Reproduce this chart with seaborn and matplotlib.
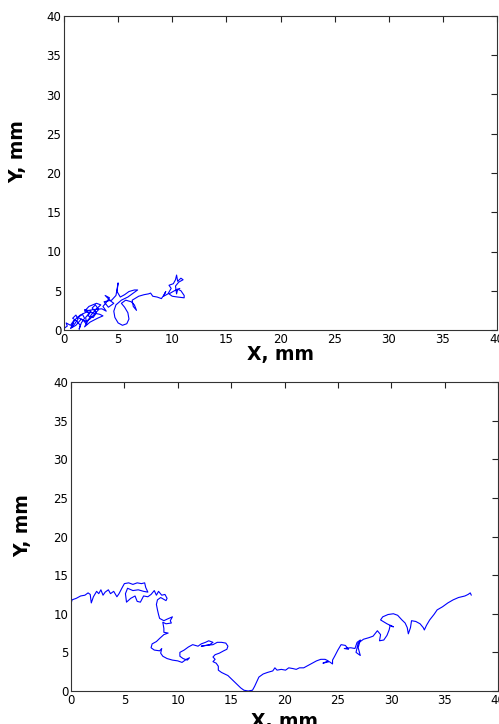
import matplotlib
matplotlib.use("Agg")
import matplotlib.pyplot as plt
import seaborn as sns
import pandas as pd

# Track 1 (top panel), mm
track1_x = [0.0, 0.3, 0.2, 0.6, 0.9, 0.7, 1.0, 1.3, 1.1, 0.8,
            1.2, 1.5, 1.4, 1.6, 1.9, 1.7, 1.3, 1.8, 2.1, 2.0,
            2.3, 1.9, 2.5, 2.2, 2.7, 3.0, 2.6, 2.9, 3.2, 2.8,
            2.4, 2.0, 1.6, 1.1, 0.6, 1.0, 1.5, 2.1, 2.6, 3.3,
            3.6, 3.1, 2.4, 1.9, 2.5, 3.0, 3.4, 3.0, 2.3, 1.9,
            2.7, 3.5, 3.9, 3.6, 3.9, 4.2, 3.8, 4.3, 4.6, 4.1,
            3.7, 4.4, 4.8, 5.0, 4.9, 5.2, 5.6, 6.0, 6.5, 6.8,
            6.4, 5.9, 5.3, 4.8, 4.6, 4.7, 5.0, 5.4, 5.8, 6.0,
            5.9, 5.6, 5.3, 5.7, 6.2, 6.5, 6.7, 6.4, 6.3, 6.9,
            7.4, 7.8, 8.0, 8.2, 8.6, 9.0, 9.2, 9.4, 9.2, 9.6,
            9.9, 9.7, 10.1, 10.3, 10.4, 10.5, 10.8, 11.0, 10.6, 10.3,
            10.4, 10.5, 10.8, 11.1, 11.1, 10.5, 10.0, 9.7, 10.2, 10.7]
track1_y = [0.2, 0.5, 0.9, 0.6, 1.2, 0.3, 0.8, 1.4, 1.9, 1.5,
            1.1, 0.6, 0.1, 0.9, 1.5, 2.0, 1.6, 1.2, 0.7, 1.6,
            2.1, 2.6, 2.4, 1.8, 1.6, 2.2, 2.8, 3.2, 2.6, 2.0,
            1.4, 1.1, 1.4, 0.6, 0.2, 1.3, 1.9, 2.3, 2.2, 2.0,
            1.8, 1.5, 1.0, 0.4, 1.9, 2.7, 3.2, 3.4, 3.0, 2.4,
            2.6, 2.7, 2.4, 3.0, 3.5, 4.1, 4.4, 3.7, 3.4, 2.9,
            3.6, 3.8, 4.4, 6.0, 4.9, 4.2, 4.5, 4.9, 5.1, 5.1,
            4.7, 4.2, 3.8, 3.2, 2.4, 1.6, 0.9, 0.6, 0.8, 1.4,
            2.2, 2.9, 3.4, 3.8, 3.6, 3.2, 2.5, 3.0, 3.8, 4.3,
            4.5, 4.6, 4.7, 4.3, 4.2, 4.0, 4.4, 4.9, 4.3, 4.6,
            5.3, 5.7, 5.9, 6.4, 7.0, 6.2, 6.6, 6.4, 6.1, 5.6,
            4.6, 5.2, 5.0, 4.4, 4.1, 4.2, 4.3, 4.6, 5.0, 5.3]

# Track 2 (bottom panel), mm
track2_x = [0.0, 0.1, 0.5, 0.9, 1.3, 1.6, 1.8, 1.9, 2.1, 2.4,
            2.6, 2.8, 3.0, 3.2, 3.5, 3.7, 4.0, 4.3, 4.5, 4.8,
            5.0, 5.4, 5.8, 6.2, 6.6, 6.9, 7.0, 7.2, 6.8, 6.3,
            5.8, 5.3, 5.1, 5.2, 5.6, 6.0, 6.2, 6.5, 6.8, 7.2,
            7.5, 7.8, 8.0, 8.2, 8.5, 8.8, 9.0, 8.9, 8.4, 8.1,
            8.0, 8.1, 8.2, 8.3, 8.7, 9.0, 9.5, 9.3, 9.4, 8.9,
            8.6, 8.7, 8.7, 9.1, 8.7, 8.3, 8.0, 7.6, 7.5, 7.8,
            8.3, 8.5, 8.4, 8.6, 9.0, 9.5, 10.0, 10.4, 10.8, 11.1,
            10.9, 10.5, 10.2, 10.2, 10.6, 11.0, 11.4, 11.9, 12.2, 12.6,
            12.9, 13.3, 13.0, 12.6, 12.2, 12.7, 13.3, 13.7, 14.1, 14.5,
            14.7, 14.6, 14.3, 13.9, 13.5, 13.3, 13.5, 13.3, 13.6, 13.8,
            13.8, 14.1, 14.4, 14.7, 15.0, 15.3, 15.6, 15.9, 16.2, 16.6,
            17.0, 17.2, 17.4, 17.6, 18.0, 18.4, 18.9, 19.1, 19.3, 19.7,
            20.1, 20.4, 20.8, 21.1, 21.4, 21.8, 22.2, 22.6, 23.0, 23.4,
            23.8, 24.1, 23.6, 24.2, 24.5, 24.5, 24.7, 25.0, 25.3, 25.7,
            26.0, 25.6, 26.2, 26.6, 26.8, 27.1, 26.9, 27.1, 26.7, 26.9,
            27.4, 27.9, 28.3, 28.7, 29.0, 28.9, 29.3, 29.6, 29.8, 29.9,
            30.2, 29.6, 29.0, 29.2, 29.7, 30.2, 30.6, 31.0, 31.3, 31.5,
            31.6, 31.8, 31.9, 32.3, 32.7, 33.0, 33.1, 33.3, 33.6, 34.0,
            34.3, 34.8, 35.3, 35.8, 36.3, 36.9, 37.2, 37.4, 37.5]
track2_y = [11.3, 11.8, 12.0, 12.3, 12.4, 12.7, 12.5, 11.4, 12.2, 12.9,
            12.6, 13.1, 12.4, 12.8, 13.1, 12.6, 12.9, 12.2, 12.6, 13.4,
            13.9, 14.0, 13.8, 14.0, 13.9, 14.0, 13.4, 12.8, 12.9, 13.1,
            13.0, 13.3, 12.6, 11.5, 12.0, 12.3, 11.6, 11.5, 12.3, 12.2,
            12.5, 13.0, 12.4, 12.9, 12.4, 12.5, 12.0, 11.7, 12.1, 11.8,
            11.2, 10.5, 9.9, 9.4, 9.1, 9.3, 9.6, 9.1, 8.8, 8.7,
            8.9, 8.1, 7.6, 7.5, 7.3, 6.8, 6.4, 6.1, 5.6, 5.3,
            5.2, 5.5, 4.9, 4.5, 4.2, 4.0, 3.9, 3.7, 4.1, 4.3,
            4.0, 4.2, 4.5, 5.0, 5.3, 5.7, 6.0, 5.8, 6.1, 6.3,
            6.5, 6.3, 6.0, 5.9, 5.8, 5.9, 6.0, 6.3, 6.3, 6.2,
            5.8, 5.4, 5.2, 4.9, 4.7, 4.4, 4.1, 3.8, 3.6, 3.2,
            2.7, 2.4, 2.2, 2.0, 1.6, 1.2, 0.8, 0.4, 0.1, 0.0,
            0.1, 0.6, 1.2, 1.8, 2.2, 2.4, 2.6, 3.0, 2.7, 2.8,
            2.7, 3.0, 2.9, 2.8, 3.0, 3.0, 3.3, 3.6, 3.9, 4.1,
            4.1, 3.9, 3.6, 3.8, 3.5, 4.0, 4.5, 5.3, 6.0, 5.9,
            5.4, 5.5, 5.6, 5.5, 6.3, 6.6, 5.6, 4.6, 5.0, 6.2,
            6.7, 6.9, 7.1, 7.8, 7.3, 6.5, 6.6, 7.2, 7.9, 8.5,
            8.3, 8.7, 9.2, 9.6, 9.9, 10.0, 9.8, 9.2, 8.8, 8.2,
            7.4, 8.2, 9.1, 9.0, 8.7, 8.2, 7.9, 8.5, 9.2, 9.9,
            10.5, 10.9, 11.4, 11.8, 12.1, 12.3, 12.5, 12.7, 12.4]

assert len(track1_x) == len(track1_y) and len(track2_x) == len(track2_y)

tracks = [(track1_x, track1_y), (track2_x, track2_y)]
tick_vals = [0, 5, 10, 15, 20, 25, 30, 35, 40]

sns.set_theme(style="white")
plt.rcParams['font.family'] = ['DejaVu Sans']

fig = plt.figure(figsize=(4.99, 7.24), dpi=100)
axes_rects = [
    [64 / 499, 1 - 330 / 724, 433 / 499, 314 / 724],
    [71 / 499, 1 - 691 / 724, 427 / 499, 309 / 724],
]
ylabel_pos = [(-0.085, 0.567), (-0.091, 0.537)]
xlabel_pos = [(0.499, -0.048), (0.499, -0.067)]

for i, (tx, ty) in enumerate(tracks):
    ax = fig.add_axes(axes_rects[i])
    df = pd.DataFrame({"x": tx, "y": ty})
    sns.lineplot(data=df, x="x", y="y", sort=False, estimator=None,
                 color="#0000ff", linewidth=0.8, ax=ax)
    ax.set_xlim(0, 40)
    ax.set_ylim(0, 40)
    ax.set_xticks(tick_vals)
    ax.set_yticks(tick_vals)
    ax.tick_params(direction="in", top=True, right=True, length=4, width=0.8,
                   labelsize=8.5, colors="#222222", labelcolor="black", pad=2)
    for s in ax.spines.values():
        s.set_color("#333333")
        s.set_linewidth(0.8)
    ax.set_xlabel("X, mm", fontsize=13.5, fontweight="bold", color="black")
    ax.set_ylabel("Y, mm", fontsize=13.5, fontweight="bold", color="black")
    ax.xaxis.set_label_coords(*xlabel_pos[i])
    ax.yaxis.set_label_coords(*ylabel_pos[i])

fig.savefig("out.png", dpi=100)
